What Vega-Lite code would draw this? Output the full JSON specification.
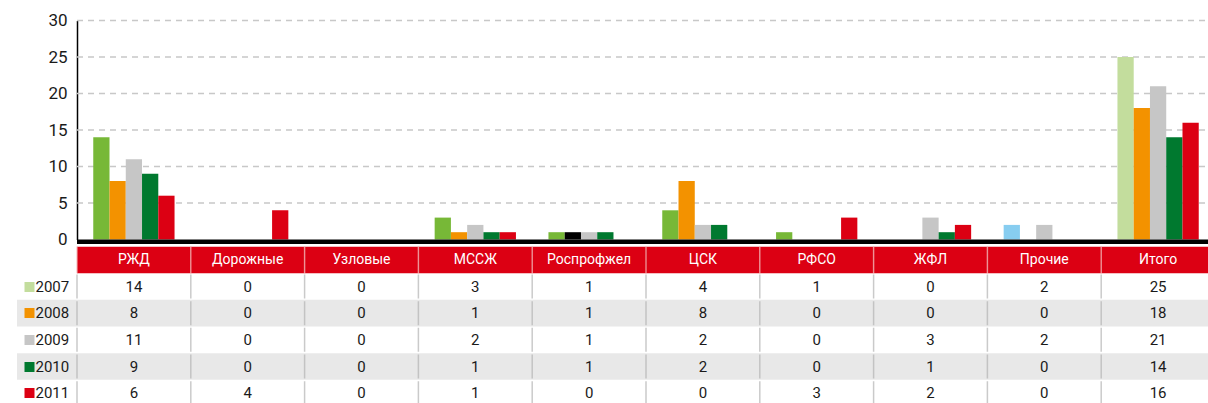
{
  "$schema": "https://vega.github.io/schema/vega-lite/v6.json",
  "background": "white",
  "padding": {"left": 17, "top": 11.5, "right": 0, "bottom": 0},
  "bounds": "flush",
  "spacing": 7,
  "config": {"view": {"stroke": null}, "font": "Roboto", "axisY": {"labelOverlap": false}, "axis": {"labelOverlap": false}},
  "datasets": {
    "counts": [
      {"cat": "РЖД", "year": "2007", "value": 14}, {"cat": "РЖД", "year": "2008", "value": 8}, {"cat": "РЖД", "year": "2009", "value": 11}, {"cat": "РЖД", "year": "2010", "value": 9}, {"cat": "РЖД", "year": "2011", "value": 6},
      {"cat": "Дорожные", "year": "2007", "value": 0}, {"cat": "Дорожные", "year": "2008", "value": 0}, {"cat": "Дорожные", "year": "2009", "value": 0}, {"cat": "Дорожные", "year": "2010", "value": 0}, {"cat": "Дорожные", "year": "2011", "value": 4},
      {"cat": "Узловые", "year": "2007", "value": 0}, {"cat": "Узловые", "year": "2008", "value": 0}, {"cat": "Узловые", "year": "2009", "value": 0}, {"cat": "Узловые", "year": "2010", "value": 0}, {"cat": "Узловые", "year": "2011", "value": 0},
      {"cat": "МССЖ", "year": "2007", "value": 3}, {"cat": "МССЖ", "year": "2008", "value": 1}, {"cat": "МССЖ", "year": "2009", "value": 2}, {"cat": "МССЖ", "year": "2010", "value": 1}, {"cat": "МССЖ", "year": "2011", "value": 1},
      {"cat": "Роспрофжел", "year": "2007", "value": 1}, {"cat": "Роспрофжел", "year": "2008", "value": 1}, {"cat": "Роспрофжел", "year": "2009", "value": 1}, {"cat": "Роспрофжел", "year": "2010", "value": 1}, {"cat": "Роспрофжел", "year": "2011", "value": 0},
      {"cat": "ЦСК", "year": "2007", "value": 4}, {"cat": "ЦСК", "year": "2008", "value": 8}, {"cat": "ЦСК", "year": "2009", "value": 2}, {"cat": "ЦСК", "year": "2010", "value": 2}, {"cat": "ЦСК", "year": "2011", "value": 0},
      {"cat": "РФСО", "year": "2007", "value": 1}, {"cat": "РФСО", "year": "2008", "value": 0}, {"cat": "РФСО", "year": "2009", "value": 0}, {"cat": "РФСО", "year": "2010", "value": 0}, {"cat": "РФСО", "year": "2011", "value": 3},
      {"cat": "ЖФЛ", "year": "2007", "value": 0}, {"cat": "ЖФЛ", "year": "2008", "value": 0}, {"cat": "ЖФЛ", "year": "2009", "value": 3}, {"cat": "ЖФЛ", "year": "2010", "value": 1}, {"cat": "ЖФЛ", "year": "2011", "value": 2},
      {"cat": "Прочие", "year": "2007", "value": 2}, {"cat": "Прочие", "year": "2008", "value": 0}, {"cat": "Прочие", "year": "2009", "value": 2}, {"cat": "Прочие", "year": "2010", "value": 0}, {"cat": "Прочие", "year": "2011", "value": 0},
      {"cat": "Итого", "year": "2007", "value": 25}, {"cat": "Итого", "year": "2008", "value": 18}, {"cat": "Итого", "year": "2009", "value": 21}, {"cat": "Итого", "year": "2010", "value": 14}, {"cat": "Итого", "year": "2011", "value": 16}
    ],
    "cats": [
      {"cat": "РЖД"}, {"cat": "Дорожные"}, {"cat": "Узловые"}, {"cat": "МССЖ"}, {"cat": "Роспрофжел"},
      {"cat": "ЦСК"}, {"cat": "РФСО"}, {"cat": "ЖФЛ"}, {"cat": "Прочие"}, {"cat": "Итого"}
    ],
    "years": [{"year": "2007"}, {"year": "2008"}, {"year": "2009"}, {"year": "2010"}, {"year": "2011"}],
    "grid": [{"v": 5}, {"v": 10}, {"v": 15}, {"v": 20}, {"v": 25}, {"v": 30}]
  },
  "vconcat": [
    {
      "width": 1191,
      "height": 221,
      "layer": [
        {
          "data": {"name": "grid"},
          "mark": {"type": "rule", "color": "#c8c8c8", "strokeWidth": 1.5, "strokeDash": [6, 5], "clip": true},
          "encoding": {
            "x": {"datum": "РЖД", "type": "nominal", "bandPosition": 0, "axis": null,
                  "scale": {"domain": ["РЖД", "Дорожные", "Узловые", "МССЖ", "Роспрофжел", "ЦСК", "РФСО", "ЖФЛ", "Прочие", "Итого"], "range": [60, 1198], "paddingInner": 0, "paddingOuter": 0}},
            "x2": {"value": "width"},
            "y": {"field": "v", "type": "quantitative", "scale": {"domain": [0, 30], "range": [221, 2], "nice": false},
                  "axis": {"orient": "left", "offset": -60, "values": [0, 5, 10, 15, 20, 25, 30], "grid": false, "ticks": false,
                           "domain": true, "domainColor": "#000000", "domainWidth": 1.5, "title": null, "labelOverlap": false,
                           "labelFontSize": 17, "labelPadding": 10, "labelColor": "#1a1a1a"}}
          }
        },
        {
          "data": {"name": "counts"},
          "mark": {"type": "bar"},
          "encoding": {
            "x": {"field": "cat", "type": "nominal", "axis": null,
                  "scale": {"domain": ["РЖД", "Дорожные", "Узловые", "МССЖ", "Роспрофжел", "ЦСК", "РФСО", "ЖФЛ", "Прочие", "Итого"], "range": [60, 1198], "paddingInner": 0, "paddingOuter": 0}},
            "xOffset": {"field": "year", "type": "nominal", "scale": {"paddingInner": 0, "paddingOuter": 1.1}},
            "y": {"field": "value", "type": "quantitative",
                  "scale": {"domain": [0, 30], "range": [221, 2], "nice": false},
                  "axis": {"orient": "left", "offset": -60, "values": [0, 5, 10, 15, 20, 25, 30], "grid": false, "ticks": false,
                           "domain": true, "domainColor": "#000000", "domainWidth": 1.5, "title": null, "labelOverlap": false,
                           "labelFontSize": 17, "labelPadding": 10, "labelColor": "#1a1a1a"}},
            "color": {
              "condition": [
                {"test": "datum.cat === 'Прочие' && datum.year === '2007'", "value": "#87cdf0"},
                {"test": "datum.cat === 'Роспрофжел' && datum.year === '2008'", "value": "#000000"},
                {"test": "datum.year === '2007' && datum.cat !== 'Итого'", "value": "#77b837"}
              ],
              "field": "year", "type": "nominal", "legend": null,
              "scale": {"domain": ["2007", "2008", "2009", "2010", "2011"], "range": ["#c3dd9d", "#f39200", "#c6c6c6", "#00792f", "#dc0013"]}
            }
          }
        },
        {
          "data": {"values": [{}]},
          "mark": {"type": "rect", "color": "#000000"},
          "encoding": {
            "x": {"datum": "РЖД", "type": "nominal", "bandPosition": 0, "axis": null,
                  "scale": {"domain": ["РЖД", "Дорожные", "Узловые", "МССЖ", "Роспрофжел", "ЦСК", "РФСО", "ЖФЛ", "Прочие", "Итого"], "range": [60, 1198], "paddingInner": 0, "paddingOuter": 0}},
            "x2": {"value": "width"},
            "y": {"datum": 0, "type": "quantitative", "scale": {"domain": [0, 30], "range": [221, 2], "nice": false},
                  "axis": {"orient": "left", "offset": -60, "values": [0, 5, 10, 15, 20, 25, 30], "grid": false, "ticks": false,
                           "domain": true, "domainColor": "#000000", "domainWidth": 1.5, "title": null, "labelOverlap": false,
                           "labelFontSize": 17, "labelPadding": 10, "labelColor": "#1a1a1a"}},
            "y2": {"datum": -0.63}
          }
        }
      ]
    },
    {
      "width": 1191,
      "height": 157,
      "layer": [
        {
          "data": {"name": "years"},
          "transform": [{"filter": "datum.year === '2008' || datum.year === '2010'"}],
          "mark": {"type": "rect", "color": "#e8e8e8"},
          "encoding": {
            "y": {"field": "year", "type": "nominal",
                  "scale": {"domain": ["hdr", "2007", "2008", "2009", "2010", "2011"], "range": [0, 160], "paddingInner": 0, "paddingOuter": 0},
                  "axis": {"orient": "left", "offset": -17, "zindex": 1, "domain": false, "grid": false, "title": null,
                           "ticks": true, "tickSize": 10, "tickWidth": 10,
                           "tickColor": {"condition": [
                             {"test": "datum.value === '2007'", "value": "#c3dd9d"},
                             {"test": "datum.value === '2008'", "value": "#f39200"},
                             {"test": "datum.value === '2009'", "value": "#c6c6c6"},
                             {"test": "datum.value === '2010'", "value": "#00792f"},
                             {"test": "datum.value === '2011'", "value": "#dc0013"}
                           ], "value": "transparent"},
                           "labelExpr": "datum.value === 'hdr' ? '' : datum.label",
                           "labelAlign": "left", "labelBaseline": "middle", "labelPadding": -11,
                           "labelFontSize": 15, "labelColor": "#1a1a1a"}}
          }
        },
        {
          "data": {"name": "cats"},
          "mark": {"type": "rect", "color": "#dc0013", "clip": true},
          "encoding": {
            "x": {"field": "cat", "type": "nominal", "axis": null,
                  "scale": {"domain": ["РЖД", "Дорожные", "Узловые", "МССЖ", "Роспрофжел", "ЦСК", "РФСО", "ЖФЛ", "Прочие", "Итого"], "range": [60, 1198], "paddingInner": 0, "paddingOuter": 0}},
            "y": {"datum": "hdr", "type": "nominal",
                  "scale": {"domain": ["hdr", "2007", "2008", "2009", "2010", "2011"], "range": [0, 160], "paddingInner": 0, "paddingOuter": 0}}
          }
        },
        {
          "data": {"name": "cats"},
          "mark": {"type": "tick", "orient": "vertical", "color": "#f2b6b6", "thickness": 1.5, "size": 26.6},
          "encoding": {
            "x": {"field": "cat", "type": "nominal", "bandPosition": 0, "axis": null,
                  "scale": {"domain": ["РЖД", "Дорожные", "Узловые", "МССЖ", "Роспрофжел", "ЦСК", "РФСО", "ЖФЛ", "Прочие", "Итого"], "range": [60, 1198], "paddingInner": 0, "paddingOuter": 0}},
            "y": {"datum": "hdr", "type": "nominal",
                  "scale": {"domain": ["hdr", "2007", "2008", "2009", "2010", "2011"], "range": [0, 160], "paddingInner": 0, "paddingOuter": 0}}
          }
        },
        {
          "data": {"name": "counts"},
          "mark": {"type": "tick", "orient": "vertical", "color": "#b4b4b4", "thickness": 1.5, "size": 24, "clip": true},
          "encoding": {
            "x": {"field": "cat", "type": "nominal", "bandPosition": 0, "axis": null,
                  "scale": {"domain": ["РЖД", "Дорожные", "Узловые", "МССЖ", "Роспрофжел", "ЦСК", "РФСО", "ЖФЛ", "Прочие", "Итого"], "range": [60, 1198], "paddingInner": 0, "paddingOuter": 0}},
            "y": {"field": "year", "type": "nominal",
                  "scale": {"domain": ["hdr", "2007", "2008", "2009", "2010", "2011"], "range": [0, 160], "paddingInner": 0, "paddingOuter": 0}}
          }
        },
        {
          "data": {"name": "cats"},
          "mark": {"type": "text", "color": "#ffffff", "fontSize": 14},
          "encoding": {
            "x": {"field": "cat", "type": "nominal", "axis": null,
                  "scale": {"domain": ["РЖД", "Дорожные", "Узловые", "МССЖ", "Роспрофжел", "ЦСК", "РФСО", "ЖФЛ", "Прочие", "Итого"], "range": [60, 1198], "paddingInner": 0, "paddingOuter": 0}},
            "y": {"datum": "hdr", "type": "nominal",
                  "scale": {"domain": ["hdr", "2007", "2008", "2009", "2010", "2011"], "range": [0, 160], "paddingInner": 0, "paddingOuter": 0}},
            "text": {"field": "cat", "type": "nominal"}
          }
        },
        {
          "data": {"name": "counts"},
          "mark": {"type": "text", "color": "#1a1a1a", "fontSize": 15},
          "encoding": {
            "x": {"field": "cat", "type": "nominal", "axis": null,
                  "scale": {"domain": ["РЖД", "Дорожные", "Узловые", "МССЖ", "Роспрофжел", "ЦСК", "РФСО", "ЖФЛ", "Прочие", "Итого"], "range": [60, 1198], "paddingInner": 0, "paddingOuter": 0}},
            "y": {"field": "year", "type": "nominal",
                  "scale": {"domain": ["hdr", "2007", "2008", "2009", "2010", "2011"], "range": [0, 160], "paddingInner": 0, "paddingOuter": 0}},
            "text": {"field": "value", "type": "quantitative"}
          }
        }
      ]
    }
  ]
}
